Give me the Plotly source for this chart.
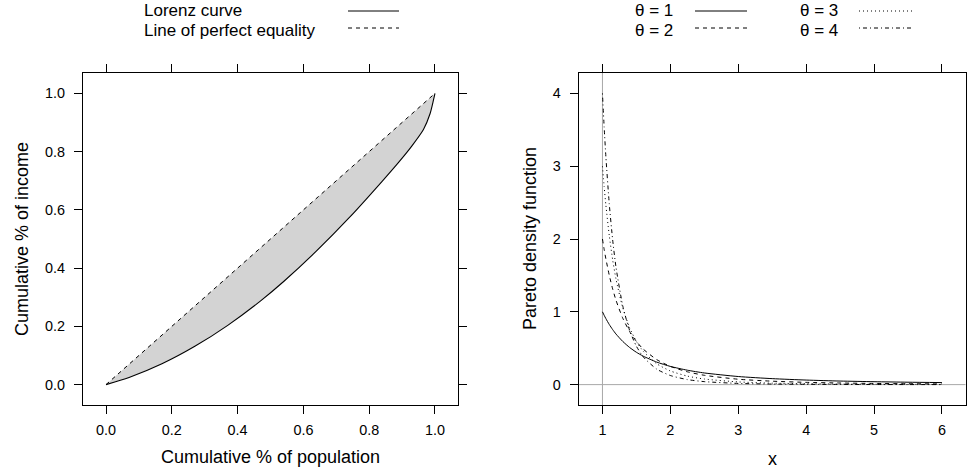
import plotly.graph_objects as go

# ---------------- data ----------------
# Lorenz curve
pop_share = [0, 0.07, 0.17, 0.27, 0.37, 0.47, 0.54, 0.64, 0.74, 0.84, 0.89, 0.93, 0.965, 0.985, 0.995, 1.0]
income_share = [0, 0.0245, 0.0715, 0.1315, 0.2035, 0.2875, 0.354, 0.459, 0.574, 0.699,
                0.764, 0.82, 0.876, 0.93, 0.975, 1.0]
equality = [0, 1.0]

lorenz_ticks = [0.0, 0.2, 0.4, 0.6, 0.8, 1.0]

# Pareto densities
x_vals = [1, 1.025, 1.05, 1.1, 1.15, 1.2, 1.3, 1.4, 1.5, 1.6, 1.8, 2, 2.25, 2.5, 3, 3.5, 4, 4.5, 5, 5.5, 6]
dens_t1 = [1, 0.952, 0.907, 0.826, 0.756, 0.694, 0.592, 0.510, 0.444, 0.391, 0.309, 0.25, 0.198, 0.16,
           0.111, 0.082, 0.0625, 0.049, 0.04, 0.033, 0.028]
dens_t2 = [2, 1.857, 1.728, 1.503, 1.315, 1.157, 0.910, 0.729, 0.593, 0.488, 0.343, 0.25, 0.176, 0.128,
           0.074, 0.047, 0.031, 0.022, 0.016, 0.012, 0.0093]
dens_t3 = [3, 2.718, 2.468, 2.049, 1.715, 1.447, 1.050, 0.781, 0.593, 0.458, 0.286, 0.1875, 0.117, 0.077,
           0.037, 0.020, 0.0117, 0.0073, 0.0048, 0.0033, 0.0023]
dens_t4 = [4, 3.535, 3.134, 2.484, 1.989, 1.608, 1.077, 0.744, 0.527, 0.381, 0.212, 0.125, 0.069, 0.041,
           0.0165, 0.0076, 0.0039, 0.0022, 0.0013, 0.0008, 0.0005]
theta_labels = ["θ = 1", "θ = 2", "θ = 3", "θ = 4"]
pareto_xticks = [1, 2, 3, 4, 5, 6]
pareto_yticks = [0, 1, 2, 3, 4]

# ---------------- figure ----------------
W, H = 967, 474
FONT = "Liberation Sans, Arial, Helvetica, sans-serif"
dashes = ["solid", "4px,4px", "1px,3px", "1px,3px,4px,3px"]

fig = go.Figure()

# shaded area between equality line and Lorenz curve
poly_x = list(pop_share) + [1.0, 0.0]
poly_y = list(income_share) + [1.0, 0.0]
fig.add_trace(go.Scatter(x=poly_x, y=poly_y, mode="lines", fill="toself",
                         fillcolor="#D3D3D3", line=dict(width=0), hoverinfo="skip",
                         xaxis="x", yaxis="y", showlegend=False))
fig.add_trace(go.Scatter(x=equality, y=equality, mode="lines",
                         line=dict(color="black", width=1, dash="4px,4px"),
                         xaxis="x", yaxis="y", showlegend=False))
fig.add_trace(go.Scatter(x=pop_share, y=income_share, mode="lines", line_shape="spline",
                         line=dict(color="black", width=1.1, smoothing=0.7),
                         xaxis="x", yaxis="y", showlegend=False))

# reference lines in right panel
fig.add_trace(go.Scatter(x=[0.65, 6.35], y=[0, 0], mode="lines",
                         line=dict(color="#A8A8A8", width=1), xaxis="x2", yaxis="y2",
                         showlegend=False, hoverinfo="skip"))
fig.add_trace(go.Scatter(x=[1, 1], y=[-0.28, 4.28], mode="lines",
                         line=dict(color="#A8A8A8", width=1), xaxis="x2", yaxis="y2",
                         showlegend=False, hoverinfo="skip"))

for dens, dsh, name in zip([dens_t1, dens_t2, dens_t3, dens_t4], dashes, theta_labels):
    fig.add_trace(go.Scatter(x=x_vals, y=dens, mode="lines", line_shape="spline", name=name,
                             line=dict(color="black", width=1, dash=dsh, smoothing=0.6),
                             xaxis="x2", yaxis="y2", showlegend=False))

ax_common = dict(showgrid=False, zeroline=False, showline=True, linecolor="black", linewidth=1,
                 mirror="ticks", ticks="outside", ticklen=8, tickwidth=1, tickcolor="black",
                 automargin=False,
                 tickfont=dict(family=FONT, size=14.4, color="black"))

y0d, y1d = 1 - 405 / H, 1 - 73 / H
fig.update_layout(
    template="none",
    width=W, height=H, margin=dict(l=0, r=0, t=0, b=0, pad=0),
    paper_bgcolor="white", plot_bgcolor="white",
    font=dict(family=FONT, color="black"),
    xaxis=dict(domain=[83 / W, 458 / W], range=[-0.07, 1.07], tickvals=lorenz_ticks,
               tickformat=".1f", anchor="y", ticklabelstandoff=4, **ax_common),
    yaxis=dict(domain=[y0d, y1d], range=[-0.07, 1.07], tickvals=lorenz_ticks,
               tickformat=".1f", anchor="x", ticklabelstandoff=6, **ax_common),
    xaxis2=dict(domain=[578.7 / W, 965.7 / W], range=[0.65, 6.35], tickvals=pareto_xticks,
                anchor="y2", ticklabelstandoff=4, **ax_common),
    yaxis2=dict(domain=[y0d, y1d], range=[-0.28, 4.28], tickvals=pareto_yticks,
                anchor="x2", ticklabelstandoff=6, **ax_common),
)

ann = []
shapes = []
def txt(x, y, s, size=18, angle=0, xanchor="center"):
    ann.append(dict(x=x / W, y=1 - y / H, xref="paper", yref="paper", text=s, showarrow=False,
                    font=dict(family=FONT, size=size, color="black"), textangle=angle,
                    xanchor=xanchor, yanchor="middle", borderpad=0))

def key(x0, x1, y, dash):
    shapes.append(dict(type="line", xref="paper", yref="paper", x0=x0 / W, x1=x1 / W,
                       y0=1 - y / H, y1=1 - y / H, line=dict(color="black", width=1, dash=dash)))

# axis titles
txt(270, 457, "Cumulative % of population")
txt(22, 239, "Cumulative % of income", angle=-90)
txt(772, 459, "x")
txt(530, 239, "Pareto density function", angle=-90)

# legends
LS = 17
txt(143, 10.5, "Lorenz curve", size=LS, xanchor="left")
txt(143, 30, "Line of perfect equality", size=LS, xanchor="left")
key(348, 399, 11, "solid")
key(348, 399, 28, "4px,4px")

txt(634, 10.5, theta_labels[0], size=LS, xanchor="left")
txt(634, 30, theta_labels[1], size=LS, xanchor="left")
txt(799, 10.5, theta_labels[2], size=LS, xanchor="left")
txt(799, 30, theta_labels[3], size=LS, xanchor="left")
key(695, 747, 11, dashes[0])
key(695, 747, 28, dashes[1])
key(859, 912, 11, dashes[2])
key(859, 912, 28, dashes[3])

fig.update_layout(annotations=ann, shapes=shapes)
fig.write_html("out.html", config={"displayModeBar": False},
               post_script="document.body.style.margin='0px';document.body.style.overflow='hidden';")
